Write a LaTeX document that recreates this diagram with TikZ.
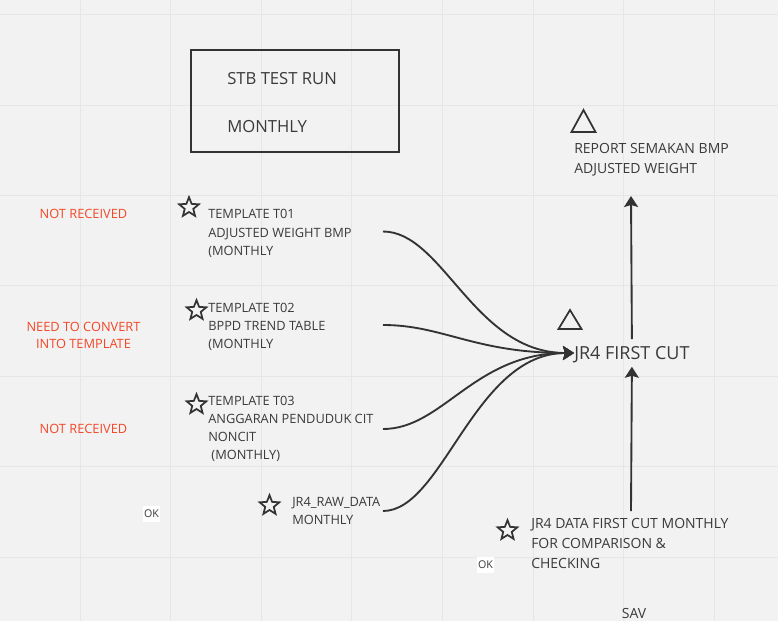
\documentclass[tikz,border=0pt]{standalone}
\usepackage{fontspec}
\setmainfont{Open Sans}
\usetikzlibrary{shapes.geometric,arrows.meta}
\definecolor{bg}{HTML}{F2F2F2}
\definecolor{gridc}{HTML}{E6E6E6}
\definecolor{ink}{HTML}{333333}
\definecolor{txt}{HTML}{3A3A3A}
\definecolor{redt}{HTML}{F24726}
\begin{document}
\begin{tikzpicture}[x=0.75pt,y=-0.75pt,
  gridline/.style={draw=gridc,line width=0.75pt},
  smalltxt/.style={font=\fontsize{9.6}{13.6}\selectfont,text=txt,inner sep=0pt,align=left},
  redtxt/.style={font=\fontsize{9.6}{12.8}\selectfont,text=redt,inner sep=0pt,align=center},
  midtxt/.style={font=\fontsize{10.5}{15}\selectfont,text=txt,inner sep=0pt,align=left},
  bigtxt/.style={font=\fontsize{13.5}{16}\selectfont,text=txt,inner sep=0pt},
  titletxt/.style={font=\fontsize{12.5}{15}\selectfont,text=txt,inner sep=0pt},
  okbox/.style={fill=white,font=\fontsize{8}{10}\selectfont,text=txt,inner sep=0pt,minimum width=12.75pt,minimum height=12pt},
  starsh/.style={star,star points=5,star point ratio=2.3,draw=ink,line width=1.3pt,minimum size=15.5pt,inner sep=0pt},
  trish/.style={draw=ink,line width=1.3pt,line join=miter},
  framebox/.style={draw=ink,line width=1.5pt,minimum width=156pt,minimum height=76.5pt,inner sep=0pt},
  arr/.style={draw=ink,line width=1.4pt,-{Stealth[length=8.25pt,width=10.5pt,inset=1.5pt]}}
]
\fill[bg] (0,0) rectangle (778,621);
\useasboundingbox (0,0) rectangle (778,621);
\foreach \gx in {80,170.6,261.2,351.8,442.4,533,623.6,714.2}
  \draw[gridline] (\gx,0) -- (\gx,621);
\foreach \gy in {14.6,105,195.4,285.8,376.2,466.6,557}
  \draw[gridline] (0,\gy) -- (778,\gy);

% title box
\node[framebox] (stbbox) at (295,101) {};
\node[titletxt,anchor=west,text depth=0pt] (stb) at (227,78) {STB TEST RUN};
\node[titletxt,anchor=west,text depth=0pt] (mon) at (227,126) {MONTHLY};

% red notes
\node[redtxt] (nr1) at (83.5,214) {NOT RECEIVED};
\node[redtxt] (nc) at (83.5,335) {NEED TO CONVERT\\INTO TEMPLATE};
\node[redtxt] (nr2) at (83.5,429) {NOT RECEIVED};

% OK labels
\node[okbox] (ok1) at (151.5,513.5) {OK};
\node[okbox] (ok2) at (485.5,564.5) {OK};

% stars
\node[starsh] (s1) at (189,207.5) {};
\node[starsh] (s2) at (196.5,310.5) {};
\node[starsh] (s3) at (196.5,404.5) {};
\node[starsh] (s4) at (269.5,505.5) {};
\node[starsh] (s5) at (507.5,530.5) {};

% triangles
\draw[trish] (571.5,132) -- (583.5,110) -- (595.5,132) -- cycle;
\draw[trish] (558.5,329) -- (570,310) -- (581.5,329) -- cycle;

% source texts
\node[smalltxt,anchor=west] (t1) at (208,233.5) {TEMPLATE T01\\ADJUSTED WEIGHT BMP\\(MONTHLY};
\node[smalltxt,anchor=west] (t2) at (208,327) {TEMPLATE T02\\BPPD TREND TABLE\\(MONTHLY};
\node[smalltxt,anchor=west] (t3) at (208,429) {TEMPLATE T03\\ANGGARAN PENDUDUK CIT\\NONCIT\\\hspace*{2.4pt}(MONTHLY)};
\node[smalltxt,anchor=west] (raw) at (292,511) {JR4\_RAW\_DATA\\MONTHLY};

% targets
\node[bigtxt,anchor=west,text depth=0pt,minimum height=20.25pt] (fc) at (574,353) {JR4 FIRST CUT};
\node[midtxt,anchor=west] (rep) at (574,160) {REPORT SEMAKAN BMP\\ADJUSTED WEIGHT};
\node[midtxt,anchor=west] (data) at (531,543) {JR4 DATA FIRST CUT MONTHLY\\FOR COMPARISON \&\\CHECKING};
\node[midtxt] (sav) at (634,613) {SAV};

\coordinate (repin) at (631,196);
\coordinate (dataout) at (631,511);

% connectors
\draw[arr] ([xshift=131.25pt,yshift=1.5pt]t1.west) .. controls +(60,0) and +(-100,0) .. (fc.west);
\draw[arr] ([xshift=131.25pt,yshift=1.5pt]t2.west) .. controls +(60,0) and +(-100,0) .. (fc.west);
\draw[arr] ([xshift=131.25pt]t3.west) .. controls +(60,0) and +(-100,0) .. (fc.west);
\draw[arr] ([xshift=68.25pt]raw.west) .. controls +(60,0) and +(-100,0) .. (fc.west);
\draw[arr] (fc.north) -- (repin);
\draw[arr] (dataout) -- (fc.south);
\end{tikzpicture}
\end{document}
